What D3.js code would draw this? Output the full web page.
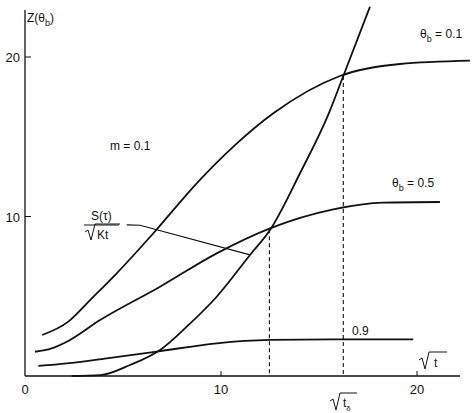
<!DOCTYPE html>
<html>
<head>
<meta charset="utf-8">
<script src="https://cdn.jsdelivr.net/npm/d3@7"></script>
<style>
  body { margin: 0; background: #fff; }
  text { font-family: "Liberation Sans", Arial, sans-serif; fill: #111; }
</style>
</head>
<body>
<svg id="chart" width="476" height="413"></svg>
<script>
// curves: [sqrt t, Z]
var theta01 = [[0.88,2.57],[2.21,3.41],[3.32,4.76],[4.68,6.44],[6.55,8.95],[8.76,12.08],
  [10.63,14.38],[12.67,16.47],[16.07,18.81],[19.13,19.56],[22.7,19.77]];
var theta05 = [[0.51,1.52],[1.36,1.73],[2.13,2.15],[3.83,3.51],[6.89,5.6],[9.78,7.69],
  [12.5,9.26],[15.73,10.45],[18.28,10.87],[21.17,10.91]];
var theta09 = [[0.68,0.63],[2.13,0.79],[4.17,1.11],[6.72,1.53],[9.78,2.05],[12.5,2.26],
  [15.73,2.3],[19.81,2.3]];
var sCurve = [[2.38,0],[3.83,0.05],[5.36,0.69],[6.89,1.63],[8.25,3.09],[9.78,4.97],
  [11.48,7.59],[12.5,9.15],[14.03,12.71],[15.5,16.47],[16.24,18.81],[17.6,23.15]];
var leader = [[5.19,9.47],[5.87,9.45],[11.48,7.59]];
var dashes = [[12.47,9.2],[16.24,18.81]];
var xTicks = [0, 10, 20];
var yTicks = [10, 20];

var svg = d3.select("#chart");
var x = d3.scaleLinear().domain([0, 20]).range([25, 417]);
var y = d3.scaleLinear().domain([0, 20]).range([376, 57]);

var g = svg.append("g").attr("stroke", "#111").attr("fill", "none");
// axes
g.append("line").attr("x1", x(0)).attr("x2", 460).attr("y1", y(0)).attr("y2", y(0)).attr("stroke-width", 1.3);
g.append("line").attr("x1", x(0)).attr("x2", x(0)).attr("y1", y(0)).attr("y2", 10).attr("stroke-width", 1.3);
yTicks.forEach(function(v) {
  g.append("line").attr("x1", x(0)).attr("x2", x(0) + 6).attr("y1", y(v)).attr("y2", y(v));
  svg.append("text").attr("x", x(0) - 5).attr("y", y(v) + 5).attr("text-anchor", "end")
    .attr("font-size", 13).text(v);
});
xTicks.forEach(function(v) {
  if (v > 0) g.append("line").attr("x1", x(v)).attr("x2", x(v)).attr("y1", y(0)).attr("y2", y(0) - 5);
  svg.append("text").attr("x", x(v)).attr("y", 394).attr("text-anchor", "middle")
    .attr("font-size", 13).text(v);
});

var line = d3.line().x(function(d) { return x(d[0]); }).y(function(d) { return y(d[1]); })
  .curve(d3.curveMonotoneX);
[theta01, theta05, theta09, sCurve].forEach(function(c) {
  g.append("path").attr("d", line(c)).attr("stroke-width", 1.8);
});
g.append("path").attr("d", d3.line().x(function(d) { return x(d[0]); }).y(function(d) { return y(d[1]); })(leader))
  .attr("stroke-width", 1.2);
dashes.forEach(function(d) {
  g.append("line").attr("x1", x(d[0])).attr("x2", x(d[0])).attr("y1", y(d[1])).attr("y2", y(0))
    .attr("stroke-dasharray", "4,3").attr("stroke-width", 1.1);
});

// labels
function label(tx, ty, str, size) {
  return svg.append("text").attr("x", tx).attr("y", ty).attr("font-size", size || 12).text(str);
}
var zt = label(27, 22, "Z(θ", 12); zt.append("tspan").attr("dy", 4).attr("font-size", 9).text("b");
zt.append("tspan").attr("dy", -4).text(")");
var t1 = label(420, 38, "θ", 12); t1.append("tspan").attr("dy", 4).attr("font-size", 9).text("b");
t1.append("tspan").attr("dy", -4).text(" = 0.1");
var t5 = label(392, 187, "θ", 12); t5.append("tspan").attr("dy", 4).attr("font-size", 9).text("b");
t5.append("tspan").attr("dy", -4).text(" = 0.5");
label(110, 150, "m = 0.1");
label(352, 335, "0.9");
label(91, 220, "S(τ)");
g.append("line").attr("x1", 84).attr("x2", 119).attr("y1", 225).attr("y2", 225);
// sqrt Kt
g.append("path").attr("d", "M85,232 L88,230 L91,240 L95,224 L120,224").attr("stroke-width", 1);
label(97, 239, "Kt", 12);
// sqrt t
g.append("path").attr("d", "M419,360 L422,358 L425,369 L429,352 L447,352").attr("stroke-width", 1);
label(434, 367, "t", 12);
// sqrt t_delta
g.append("path").attr("d", "M330,401 L333,399 L336,410 L340,393 L357,393").attr("stroke-width", 1);
var td = label(343, 407, "t", 12);
td.append("tspan").attr("dy", 4).attr("font-size", 8).text("δ");
</script>
</body>
</html>
